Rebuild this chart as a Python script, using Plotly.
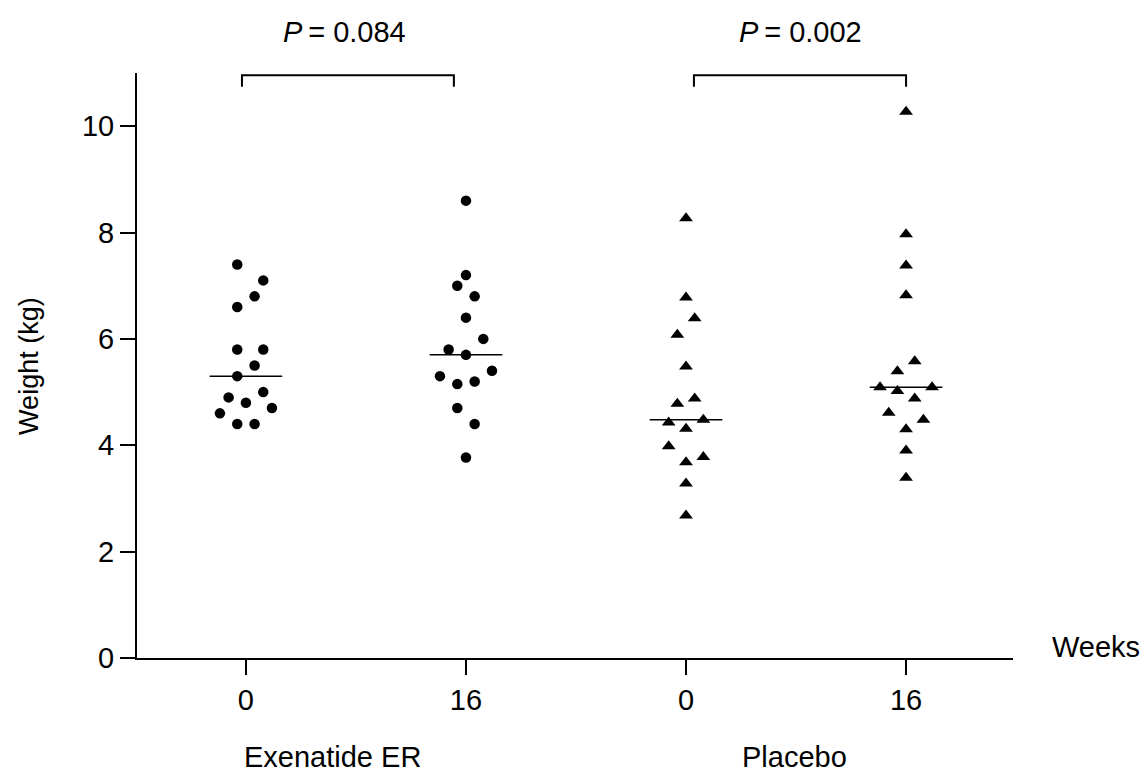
import numpy as np
import plotly.graph_objects as go

# ---- data ----
groups = ["Exenatide ER", "Placebo"]
week_labels = ["0", "16", "0", "16"]

exen_w0 = [7.4, 7.1, 6.8, 6.6, 5.8, 5.8, 5.5, 5.3, 5.0, 4.9, 4.8, 4.7, 4.6, 4.4, 4.4]
exen_w0_col = [-1, 2, 1, -1, -1, 2, 1, -1, 2, -2, 0, 3, -3, -1, 1]

exen_w16 = [8.6, 7.2, 7.0, 6.8, 6.4, 6.0, 5.8, 5.7, 5.4, 5.3, 5.2, 5.15, 4.7, 4.4, 3.77]
exen_w16_col = [0, 0, -1, 1, 0, 2, -2, 0, 3, -3, 1, -1, -1, 1, 0]

plac_w0 = [8.27, 6.78, 6.39, 6.08, 5.48, 4.88, 4.78, 4.48, 4.43, 4.31, 3.98, 3.78, 3.68, 3.28, 2.68]
plac_w0_col = [0, 0, 1, -1, 0, 1, -1, 2, -2, 0, -2, 2, 0, 0, 0]

plac_w16 = [10.27, 7.97, 7.38, 6.82, 5.58, 5.39, 5.09, 5.09, 5.02, 4.88, 4.61, 4.48, 4.30, 3.90, 3.39]
plac_w16_col = [0, 0, 0, 0, 1, -1, -3, 3, -1, 1, -2, 2, 0, 0, 0]

p_values = ["0.084", "0.002"]

# ---- styling ----
FONT = "Liberation Sans, Arial, sans-serif"
FS = 29
COL_STEP = 0.0394
MED_HALF = 0.165

fig = go.Figure()

series = [
    (0, exen_w0, exen_w0_col, "circle", 10.5),
    (1, exen_w16, exen_w16_col, "circle", 10.5),
    (2, plac_w0, plac_w0_col, "triangle-up", 12),
    (3, plac_w16, plac_w16_col, "triangle-up", 12),
]

for pos, vals, cols, sym, size in series:
    xs = [pos + c * COL_STEP for c in cols]
    fig.add_trace(go.Scatter(
        x=xs, y=vals, mode="markers",
        marker=dict(symbol=sym, size=size, color="black", line=dict(width=0)),
        showlegend=False, hoverinfo="y", cliponaxis=False,
    ))
    med = float(np.median(vals))
    fig.add_trace(go.Scatter(
        x=[pos - MED_HALF, pos + MED_HALF], y=[med, med], mode="lines",
        line=dict(color="black", width=1.5), showlegend=False, hoverinfo="skip",
    ))

# brackets
brackets = [(-0.018, 0.945), (2.036, 3.0)]
for (x0, x1) in brackets:
    fig.add_shape(type="path",
                  path=f"M {x0},10.74 L {x0},10.96 L {x1},10.96 L {x1},10.74",
                  xref="x", yref="y", line=dict(color="black", width=2))

annotations = []
for xp, pv in zip([0.45, 2.518], p_values):
    annotations.append(dict(x=xp, y=1.0706, xref="x", yref="paper",
                            text=f"<i>P</i>\u2009= {pv}", showarrow=False,
                            font=dict(size=FS, family=FONT, color="black"),
                            xanchor="center", yanchor="middle"))
for xp, g in zip([0.395, 2.495], groups):
    annotations.append(dict(x=xp, y=-0.170, xref="x", yref="paper",
                            text=g, showarrow=False,
                            font=dict(size=FS, family=FONT, color="black"),
                            xanchor="center", yanchor="middle"))
annotations.append(dict(x=1.042, y=0.0193, xref="paper", yref="paper",
                        text="Weeks", showarrow=False,
                        font=dict(size=FS, family=FONT, color="black"),
                        xanchor="left", yanchor="middle"))
annotations.append(dict(x=-0.124, y=0.5, xref="paper", yref="paper",
                        text="Weight (kg)", showarrow=False, textangle=-90,
                        font=dict(size=27, family=FONT, color="black"),
                        xanchor="center", yanchor="middle"))

fig.update_layout(
    width=1148, height=782,
    margin=dict(l=137, r=135, t=73, b=124),
    paper_bgcolor="white", plot_bgcolor="white",
    font=dict(family=FONT, size=FS, color="black"),
    annotations=annotations,
    xaxis=dict(range=[-0.495, 3.486], tickvals=[0, 1, 2, 3], ticktext=week_labels,
               showline=True, linecolor="black", linewidth=2,
               ticks="outside", ticklen=15, tickwidth=2, tickcolor="black",
               showgrid=False, zeroline=False,
               tickfont=dict(size=FS, family=FONT, color="black")),
    yaxis=dict(range=[0, 11], tickvals=[0, 2, 4, 6, 8, 10],
               showline=True, linecolor="black", linewidth=2,
               ticks="outside", ticklen=15, tickwidth=2, tickcolor="black",
               showgrid=False, zeroline=False,
               tickfont=dict(size=FS, family=FONT, color="black")),
)

fig.write_html("out.html")
